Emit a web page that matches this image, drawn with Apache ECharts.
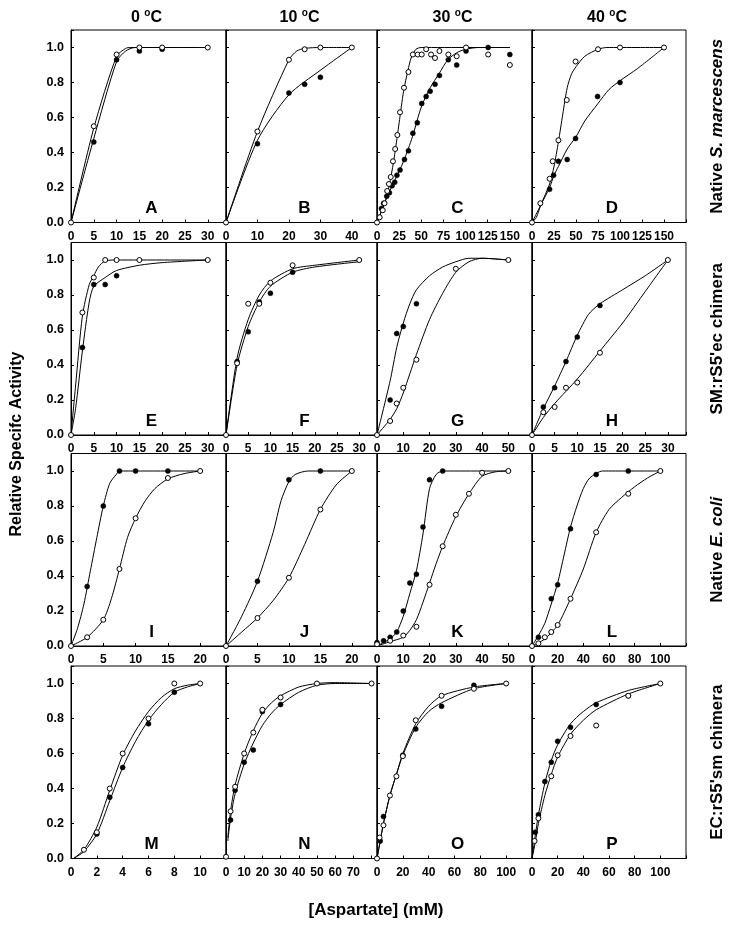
<!DOCTYPE html>
<html><head><meta charset="utf-8">
<script src="https://cdn.jsdelivr.net/npm/echarts@6/dist/echarts.min.js"></script>
<style>html,body{margin:0;padding:0;background:#fff}#c{width:729px;height:928px}</style>
</head><body><div id="c"></div>
<script>
// ---------- DATA ----------
const panelIds = ['A','B','C','D','E','F','G','H','I','J','K','L','M','N','O','P'];
const colTitles = ['0', '10', '30', '40'];
const xMax      = [34, 48, 175, 175, 34, 34, 59, 34, 24, 24, 59, 120, 12, 83, 120, 120];
const xStep     = [5, 10, 25, 25, 5, 5, 10, 5, 5, 5, 10, 20, 2, 10, 20, 20];
const xLastTick = [30, 40, 150, 150, 30, 30, 50, 30, 20, 20, 50, 100, 10, 70, 100, 100];
const yTicks    = [0.0, 0.2, 0.4, 0.6, 0.8, 1.0];

const A_open = [[0,0],[5,0.55],[10,0.96],[15,1.0],[20,1.0],[30,1.0]];
const A_filled = [[5,0.46],[10,0.93],[15,0.98],[20,0.99]];
const A_openFit = [[0,0],[5,0.54],[10,0.95],[12,0.995],[13,1.0],[20,1.0],[30,1.0]];
const A_filledFit = [[0,0],[5,0.48],[10,0.92],[12,0.98],[14,1.0],[20,1.0],[30,1.0]];

const B_open = [[0,0],[10,0.52],[20,0.93],[25,0.99],[30,1.0],[40,1.0]];
const B_filled = [[10,0.45],[20,0.74],[25,0.79],[30,0.83]];
const B_openFit = [[0,0],[10,0.52],[20,0.93],[22.5,0.98],[25,0.995],[30,1.0],[40,1.0]];
const B_filledFit = [[0,0],[10,0.47],[20,0.73],[30,0.87],[40,1.0]];

const C_open = [[0,0],[3,0.03],[6.5,0.07],[8.5,0.11],[11.5,0.18],[13.5,0.22],[15.5,0.26],[18,0.35],[20.5,0.42],[23,0.5],[26,0.63],[30.5,0.77],[35.5,0.86],[40.5,0.96],[46,0.96],[50.5,0.96],[55.5,0.99],[61,0.96],[65.5,0.94],[70.5,0.98],[80.5,0.96],[90,0.95],[100.5,1.0],[125.5,0.96],[150,0.9]];
const C_filled = [[5,0.08],[7.5,0.11],[11,0.15],[14,0.17],[17,0.21],[20,0.23],[22.5,0.27],[26,0.3],[31,0.36],[35.5,0.41],[40.5,0.51],[45.5,0.57],[50.5,0.68],[55.5,0.72],[60,0.75],[65.5,0.79],[70.5,0.84],[80.5,0.93],[90,0.9],[100.5,0.98],[125.5,1.0],[150,0.96]];
const C_openFit = [[0,0],[10,0.13],[15,0.24],[20,0.39],[25,0.57],[30,0.75],[35,0.87],[38.5,0.94],[44,0.99],[50,1.0],[150,1.0]];
const C_filledFit = [[0,0],[10,0.13],[20,0.24],[30,0.35],[40,0.49],[50,0.66],[60,0.77],[70,0.85],[80,0.93],[90,0.97],[100,0.99],[115,1.0],[150,1.0]];

const D_open = [[0,0],[9.5,0.11],[20,0.25],[23.5,0.35],[30,0.47],[39.5,0.7],[49.5,0.92],[75,0.99],[100,1.0],[150,1.0]];
const D_filled = [[20,0.19],[24.5,0.27],[30,0.35],[40,0.36],[49.5,0.48],[74.5,0.72],[100,0.8]];
const D_openFit = [[0,0],[5,0.03],[10,0.1],[20,0.22],[25,0.32],[30,0.46],[35,0.62],[40,0.77],[45,0.85],[50,0.89],[60,0.95],[75,0.99],[85,1.0],[150,1.0]];
const D_filledFit = [[0,0],[10,0.1],[20,0.2],[25,0.27],[30,0.32],[40,0.42],[50,0.49],[60,0.58],[75,0.68],[87.5,0.76],[100,0.81],[120,0.88],[150,1.0]];

const E_open = [[0,0],[2.5,0.7],[5,0.9],[7.5,1.0],[10,1.0],[15,1.0],[30,1.0]];
const E_filled = [[2.5,0.5],[5,0.86],[7.5,0.86],[10,0.91]];
const E_openFit = [[0,0],[1,0.28],[2.5,0.68],[4,0.86],[5,0.91],[6,0.96],[7.5,0.995],[10,1.0],[30,1.0]];
const E_filledFit = [[0,0],[1,0.15],[2.5,0.48],[4,0.76],[5,0.85],[7.5,0.9],[10,0.94],[15,0.97],[20,0.985],[30,1.0]];

const F_open = [[0,0],[2.5,0.41],[5,0.75],[7.5,0.75],[10,0.87],[15,0.97],[30,1.0]];
const F_filled = [[2.5,0.42],[5,0.59],[7.5,0.76],[10,0.81],[15,0.93]];
const F_openFit = [[0,0],[2.5,0.44],[5,0.66],[7.5,0.8],[10,0.88],[15,0.95],[20,0.97],[30,1.0]];
const F_filledFit = [[0,0],[2.5,0.4],[5,0.62],[7.5,0.76],[10,0.85],[15,0.93],[20,0.96],[30,0.99]];

const G_open = [[0,0],[5,0.08],[7.5,0.18],[10,0.27],[15,0.43],[30,0.95],[50,1.0]];
const G_filled = [[5,0.2],[7.5,0.58],[10,0.62],[15,0.75]];
const G_openFit = [[0,0],[5,0.09],[7.5,0.15],[10,0.24],[12.5,0.35],[15,0.46],[20,0.66],[25,0.81],[30,0.93],[35,0.99],[40,1.01],[50,1.0]];
const G_filledFit = [[0,0],[5,0.31],[7.5,0.5],[10,0.64],[12.5,0.75],[15,0.83],[20,0.91],[25,0.96],[30,0.99],[35,1.01],[40,1.01],[50,1.0]];

const H_open = [[0,0],[2.5,0.13],[5,0.16],[7.5,0.27],[10,0.3],[15,0.47],[30,1.0]];
const H_filled = [[2.5,0.16],[5,0.27],[7.5,0.42],[10,0.56],[15,0.74]];
const H_openFit = [[0,0],[2.5,0.1],[5,0.18],[10,0.32],[15,0.48],[20,0.64],[25,0.82],[30,1.0]];
const H_filledFit = [[0,0],[2.5,0.15],[5,0.28],[7.5,0.42],[10,0.57],[12.5,0.69],[15,0.75],[20,0.83],[25,0.91],[30,1.0]];

const I_open = [[0,0],[2.5,0.05],[5,0.15],[7.5,0.44],[10,0.73],[15,0.96],[20,1.0]];
const I_filled = [[2.5,0.34],[5,0.8],[7.5,1.0],[10,1.0],[15,1.0]];
const I_openFit = [[0,0],[2.5,0.05],[5,0.15],[6.25,0.27],[7.5,0.44],[8.75,0.62],[10,0.73],[11.5,0.83],[13,0.9],[15,0.955],[17.5,0.985],[20,1.0]];
const I_filledFit = [[0,0],[1,0.1],[2,0.24],[3,0.43],[4,0.62],[5,0.8],[6,0.93],[7,0.98],[7.5,1.0],[20,1.0]];

const J_open = [[0,0],[5,0.16],[10,0.39],[15,0.78],[20,1.0]];
const J_filled = [[5,0.37],[10,0.95],[15,1.0]];
const J_openFit = [[0,0],[2.5,0.08],[5,0.16],[7.5,0.26],[10,0.39],[12.5,0.58],[15,0.78],[17.5,0.92],[20,1.0]];
const J_filledFit = [[0,0],[2.5,0.17],[5,0.37],[7.5,0.65],[8.75,0.83],[10,0.94],[11,0.98],[13,1.0],[20,1.0]];

const K_open = [[0,0.01],[5,0.03],[10,0.06],[15,0.11],[20,0.35],[25,0.57],[30,0.75],[35,0.87],[40,0.99],[50,1.0]];
const K_filled = [[0,0.02],[2.5,0.03],[5,0.05],[7.5,0.08],[10,0.2],[12.5,0.36],[15,0.41],[17.5,0.68],[20,0.95],[25,1.0]];
const K_openFit = [[0,0],[5,0.025],[10,0.05],[12.5,0.09],[15,0.15],[17.5,0.25],[20,0.36],[22.5,0.47],[25,0.57],[30,0.74],[35,0.87],[40,0.97],[45,0.995],[50,1.0]];
const K_filledFit = [[0,0],[2.5,0.02],[5,0.04],[7.5,0.08],[10,0.17],[12.5,0.3],[15,0.43],[17.5,0.64],[20,0.9],[22.5,0.98],[25,1.0],[50,1.0]];

const L_open = [[0,0],[5,0.015],[10,0.05],[15,0.08],[20,0.12],[30,0.27],[50,0.65],[75,0.87],[100,1.0]];
const L_filled = [[5,0.05],[15,0.27],[20,0.35],[30,0.67],[50,0.98],[75,1.0]];
const L_openFit = [[0,0],[10,0.04],[20,0.12],[30,0.27],[40,0.44],[50,0.65],[60,0.78],[70,0.85],[80,0.91],[90,0.96],[100,1.0]];
const L_filledFit = [[0,0],[5,0.06],[10,0.13],[15,0.24],[20,0.36],[25,0.52],[30,0.68],[35,0.8],[40,0.9],[45,0.96],[55,1.0],[75,1.0],[100,1.0]];

const M_open = [[1,0.05],[2,0.15],[3,0.4],[4,0.6],[6,0.8],[8,1.0],[10,1.0]];
const M_filled = [[2,0.14],[3,0.35],[4,0.52],[6,0.77],[8,0.95]];
const M_openFit = [[0.2,0],[1,0.05],[2,0.18],[3,0.39],[4,0.59],[5,0.73],[6,0.84],[7,0.92],[8,0.97],[9,0.99],[10,1.0]];
const M_filledFit = [[0.2,0],[1,0.04],[2,0.14],[3,0.33],[4,0.52],[5,0.67],[6,0.79],[7,0.88],[8,0.95],[9,0.98],[10,1.0]];

const N_open = [[0,0.01],[2.5,0.27],[5,0.41],[10,0.6],[15,0.72],[20,0.85],[30,0.92],[50,1.0],[80,1.0]];
const N_filled = [[2.5,0.22],[5,0.39],[10,0.55],[15,0.62],[20,0.84],[30,0.88]];
const N_openFit = [[1,0.12],[2.5,0.27],[5,0.42],[10,0.6],[15,0.73],[20,0.83],[25,0.89],[30,0.93],[40,0.98],[50,1.0],[60,1.005],[80,1.0]];
const N_filledFit = [[1,0.1],[2.5,0.23],[5,0.37],[10,0.54],[15,0.66],[20,0.76],[25,0.83],[30,0.88],[40,0.95],[50,0.99],[60,1.0],[80,1.0]];

const O_open = [[0,0],[2,0.12],[5,0.19],[10,0.36],[15,0.47],[20,0.585],[30,0.79],[50,0.93],[75,0.97],[100,1.0]];
const O_filled = [[2.5,0.1],[5,0.24],[20,0.59],[30,0.74],[50,0.87],[75,0.99]];
const O_openFit = [[0,0],[2.5,0.1],[5,0.2],[10,0.36],[15,0.48],[20,0.6],[30,0.77],[40,0.87],[50,0.93],[75,0.98],[100,1.0]];
const O_filledFit = [[0,0],[2.5,0.1],[5,0.2],[10,0.36],[15,0.48],[20,0.59],[30,0.75],[40,0.84],[50,0.89],[75,0.97],[100,1.0]];

const P_open = [[2,0.1],[5,0.23],[15,0.47],[20,0.59],[30,0.7],[50,0.76],[75,0.93],[100,1.0]];
const P_filled = [[2.5,0.15],[5,0.25],[10,0.44],[15,0.55],[20,0.67],[30,0.75],[50,0.88],[75,0.93]];
const P_openFit = [[0,0],[2.5,0.09],[5,0.2],[10,0.36],[15,0.48],[20,0.58],[30,0.71],[40,0.79],[50,0.85],[75,0.94],[100,1.0]];
const P_filledFit = [[0,0],[2.5,0.13],[5,0.25],[10,0.43],[15,0.56],[20,0.65],[30,0.77],[40,0.84],[50,0.89],[75,0.96],[100,1.0]];

const panelData = {
  A:[A_open,A_filled,A_openFit,A_filledFit], B:[B_open,B_filled,B_openFit,B_filledFit],
  C:[C_open,C_filled,C_openFit,C_filledFit], D:[D_open,D_filled,D_openFit,D_filledFit],
  E:[E_open,E_filled,E_openFit,E_filledFit], F:[F_open,F_filled,F_openFit,F_filledFit],
  G:[G_open,G_filled,G_openFit,G_filledFit], H:[H_open,H_filled,H_openFit,H_filledFit],
  I:[I_open,I_filled,I_openFit,I_filledFit], J:[J_open,J_filled,J_openFit,J_filledFit],
  K:[K_open,K_filled,K_openFit,K_filledFit], L:[L_open,L_filled,L_openFit,L_filledFit],
  M:[M_open,M_filled,M_openFit,M_filledFit], N:[N_open,N_filled,N_openFit,N_filledFit],
  O:[O_open,O_filled,O_openFit,O_filledFit], P:[P_open,P_filled,P_openFit,P_filledFit]
};

// ---------- LAYOUT / STYLE ----------
const FONT = '"Liberation Sans", Arial, Helvetica, sans-serif';
const colLeft = [71, 226, 377, 532], colW = [155, 151, 155, 154];
const rowTop = [30, 242.5, 453.5, 666], rowH = 192.5;
const YMAX = 1.1;

const grids = [], xAxes = [], yAxes = [], series = [], graphics = [];
panelIds.forEach((id, i) => {
  const r = Math.floor(i / 4), c = i % 4;
  grids.push({left: colLeft[c], top: rowTop[r], width: colW[c], height: rowH,
    show: true, borderColor: '#000', borderWidth: 1, backgroundColor: 'transparent', outerBoundsMode: 'none'});
  const step = xStep[i], last = xLastTick[i];
  xAxes.push({type: 'value', gridIndex: i, min: 0, max: xMax[i], interval: step,
    axisLine: {show: true, onZero: false, lineStyle: {color: '#000', width: 1}},
    axisTick: {show: true, inside: true, length: 3, lineStyle: {color: '#000'}},
    splitLine: {show: false},
    axisLabel: {show: true, margin: 8, color: '#000', fontFamily: FONT, fontWeight: 'bold', fontSize: 12,
      formatter: v => (Math.abs(v / step - Math.round(v / step)) < 1e-6 && v <= last + 1e-6) ? String(v) : ''}
  });
  yAxes.push({type: 'value', gridIndex: i, min: 0, max: YMAX, interval: 0.2,
    axisLine: {show: true, onZero: false, lineStyle: {color: '#000', width: 1}},
    axisTick: {show: true, inside: true, length: 3, lineStyle: {color: '#000'}},
    splitLine: {show: false},
    axisLabel: {show: c === 0, margin: 7, color: '#000', fontFamily: FONT, fontWeight: 'bold', fontSize: 12.5,
      formatter: v => yTicks.some(t => Math.abs(t - v) < 1e-6) ? v.toFixed(1) : ''}
  });
  const [op, fi, opFit, fiFit] = panelData[id];
  const lineBase = {type: 'line', xAxisIndex: i, yAxisIndex: i, symbol: 'none', smooth: 0.25,
    lineStyle: {color: '#000', width: 1}, silent: true, z: 2, animation: false};
  series.push(Object.assign({}, lineBase, {data: opFit}));
  series.push(Object.assign({}, lineBase, {data: fiFit}));
  series.push({type: 'scatter', xAxisIndex: i, yAxisIndex: i, data: fi, symbol: 'circle', symbolSize: 5,
    itemStyle: {color: '#000', borderColor: '#000', borderWidth: 0.5, opacity: 1}, z: 3, silent: true, animation: false});
  series.push({type: 'scatter', xAxisIndex: i, yAxisIndex: i, data: op, symbol: 'circle', symbolSize: 5,
    itemStyle: {color: '#fff', borderColor: '#000', borderWidth: 1, opacity: 1}, z: 4, silent: true, animation: false});
  graphics.push({type: 'text', x: colLeft[c] + colW[c] / 2 + 3, y: rowTop[r] + rowH - 14, z: 10,
    style: {text: id, fill: '#000', font: 'bold 17px ' + FONT, align: 'center', verticalAlign: 'middle',
      textAlign: 'center', textVerticalAlign: 'middle'}});
});

colTitles.forEach((t, c) => {
  graphics.push({type: 'text', x: colLeft[c] + colW[c] / 2 - 2, y: 18, z: 10,
    style: {text: '{n|' + t + ' }{s|o}{n|C}', align: 'center', verticalAlign: 'middle',
      textAlign: 'center', textVerticalAlign: 'middle',
      rich: {n: {fontSize: 16, fontWeight: 'bold', fontFamily: FONT, fill: '#000', color: '#000', lineHeight: 20},
             s: {fontSize: 10, fontWeight: 'bold', fontFamily: FONT, fill: '#000', color: '#000', verticalAlign: 'top'}}}});
});

const rowLabelRich = [
  '{b|Native }{i|S. marcescens}',
  "{b|SM:rS5'ec chimera}",
  '{b|Native }{i|E. coli}',
  "{b|EC:rS5'sm chimera}"
];
rowLabelRich.forEach((t, r) => {
  graphics.push({type: 'text', x: 717, y: rowTop[r] + rowH / 2, rotation: Math.PI / 2, z: 10,
    style: {text: t, align: 'center', verticalAlign: 'middle', textAlign: 'center', textVerticalAlign: 'middle',
      rich: {b: {fontSize: 17, fontWeight: 'bold', fontFamily: FONT, fill: '#000', color: '#000'},
             i: {fontSize: 17, fontWeight: 'bold', fontStyle: 'italic', fontFamily: FONT, fill: '#000', color: '#000'}}}});
});

graphics.push({type: 'text', x: 17, y: 444, rotation: Math.PI / 2, z: 10,
  style: {text: 'Relative Specifc Activity', fill: '#000', font: 'bold 16px ' + FONT,
    align: 'center', verticalAlign: 'middle', textAlign: 'center', textVerticalAlign: 'middle'}});
graphics.push({type: 'text', x: 376, y: 910, z: 10,
  style: {text: '[Aspartate] (mM)', fill: '#000', font: 'bold 17px ' + FONT,
    align: 'center', verticalAlign: 'middle', textAlign: 'center', textVerticalAlign: 'middle'}});

const chart = echarts.init(document.getElementById('c'), null, {renderer: 'canvas'});
chart.setOption({
  backgroundColor: '#fff',
  animation: false,
  grid: grids, xAxis: xAxes, yAxis: yAxes, series: series,
  graphic: {elements: graphics}
});
</script></body></html>
